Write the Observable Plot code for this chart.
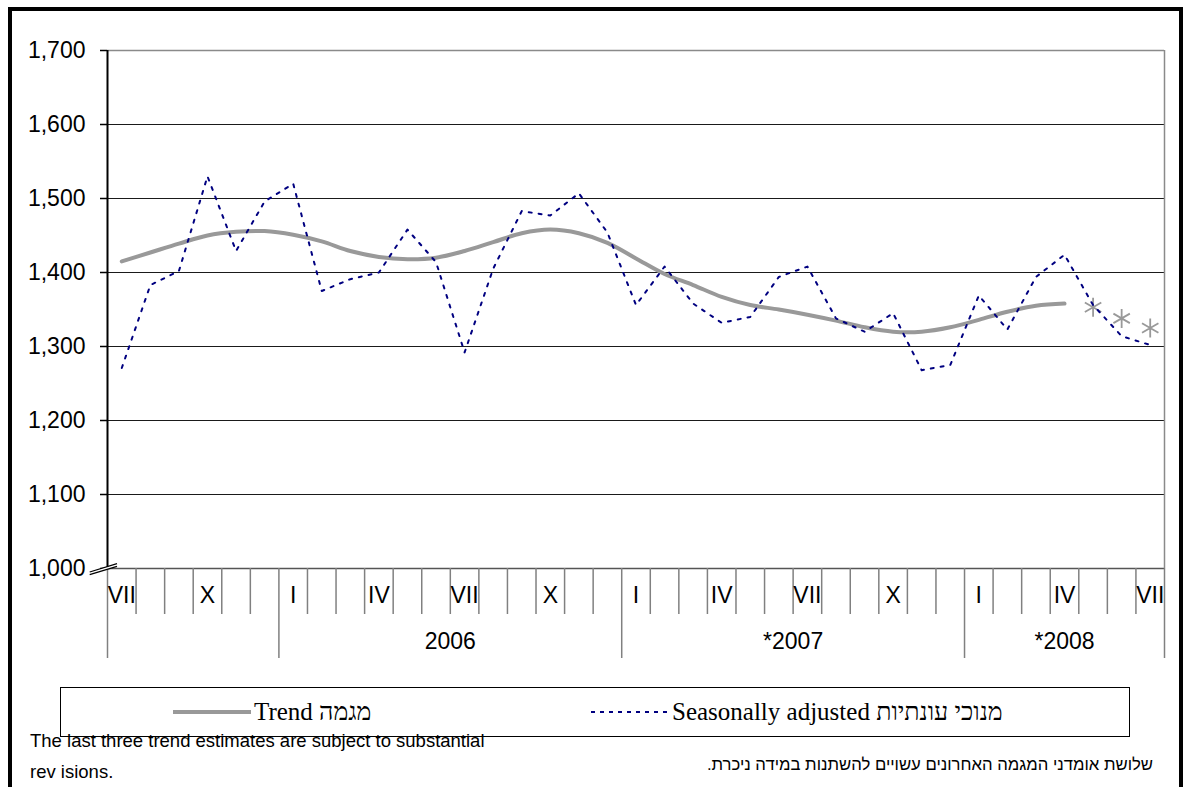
<!DOCTYPE html>
<html>
<head>
<meta charset="utf-8">
<script src="https://cdn.jsdelivr.net/npm/d3@7"></script>
<script src="https://cdn.jsdelivr.net/npm/@observablehq/plot@0.6"></script>
<style>
  html, body { margin: 0; padding: 0; background: #fff; }
  #wrap { position: relative; width: 1191px; height: 787px; overflow: hidden; background: #fff;
          font-family: "Liberation Sans", Arial, sans-serif; }
  #chart { position: absolute; left: 0; top: 0; }
  #frame { position: absolute; left: 8px; top: 7px; width: 1175px; height: 820px;
           border: 4px solid #000; box-sizing: border-box; pointer-events: none; }
  #legend { position: absolute; left: 60px; top: 687px; width: 1070px; height: 50px;
            border: 1.5px solid #000; box-sizing: border-box; background: #fff;
            font-family: "Liberation Serif", "Times New Roman", serif; font-size: 25px; color: #000; }
  .item { position: absolute; top: 0; height: 47px; display: flex; align-items: center; white-space: nowrap; }
  .item svg { margin-right: 3px; }
  #note-en { position: absolute; left: 30px; top: 725px; font-size: 18.5px; line-height: 31px; color: #000; }
  #note-he { position: absolute; right: 38px; top: 755px; font-size: 16.7px; color: #000; direction: rtl; white-space: nowrap; }
</style>
</head>
<body>
<div id="wrap">
  <div id="chart"></div>
  <div id="legend"></div>
  <div id="note-en">The last three trend estimates are subject to substantial<br>rev isions.</div>
  <div id="note-he">שלושת אומדני המגמה האחרונים עשויים להשתנות במידה ניכרת.</div>
  <div id="frame"></div>
</div>
<script>
// ---------- data ----------
const categories = [
  "2005-07","2005-08","2005-09","2005-10","2005-11","2005-12",
  "2006-01","2006-02","2006-03","2006-04","2006-05","2006-06",
  "2006-07","2006-08","2006-09","2006-10","2006-11","2006-12",
  "2007-01","2007-02","2007-03","2007-04","2007-05","2007-06",
  "2007-07","2007-08","2007-09","2007-10","2007-11","2007-12",
  "2008-01","2008-02","2008-03","2008-04","2008-05","2008-06",
  "2008-07"
];
const monthTickLabels = [
  "VII","","","X","","","I","","","IV","","",
  "VII","","","X","","","I","","","IV","","",
  "VII","","","X","","","I","","","IV","","",
  "VII"
];
const yearLabels = ["2006", "*2007", "*2008"];
const yearStart = [6, 18, 30];
const yearEnd = [18, 30, 37];

const seasonal = [
  1271, 1383, 1402, 1530, 1429, 1496, 1520, 1375, 1391, 1400, 1458, 1414,
  1292, 1405, 1483, 1477, 1507, 1454, 1356, 1408, 1358, 1332, 1340, 1394,
  1408, 1338, 1320, 1345, 1268, 1275, 1369, 1323, 1394, 1424, 1356, 1314,
  1302
];
const trend = [
  1415, 1427, 1439, 1450, 1455, 1456, 1451, 1442, 1429, 1421, 1418, 1420,
  1429, 1441, 1453, 1458, 1453, 1440, 1419, 1398, 1383, 1367, 1356, 1350,
  1343, 1335, 1326, 1320, 1320, 1326, 1336, 1347, 1355, 1358, null, null,
  null
];
// last three trend estimates (asterisks)
const trendEstimates = [null, null, null, null, null, null, null, null, null, null, null, null,
  null, null, null, null, null, null, null, null, null, null, null, null,
  null, null, null, null, null, null, null, null, null, null, 1353, 1338,
  1325];

const yTicks = [1000, 1100, 1200, 1300, 1400, 1500, 1600, 1700];
const seriesNames = ["Trend מגמה", "Seasonally adjusted מנוכי עונתיות"];

// ---------- build ----------
const rows = categories.map((c, i) => ({
  cat: c, pos: i + 0.5, seasonal: seasonal[i], trend: trend[i], est: trendEstimates[i]
}));
const n = categories.length;
const yearBounds = [0, ...yearStart, n];
const minorBounds = d3.range(1, n).filter(b => !yearBounds.includes(b));
const labelPos = rows.filter((d, i) => monthTickLabels[i] !== "").map(d => d.pos);
const labelOf = new Map(rows.map((d, i) => [d.pos, monthTickLabels[i]]));
const yearCenters = yearStart.map((s, k) => (s + yearEnd[k]) / 2);
const yearOf = new Map(yearCenters.map((c, k) => [c, yearLabels[k]]));

const axisBreak = (index, scales) => {
  const x0 = scales.x(0), y0 = scales.y(1000);
  const g = d3.create("svg:g");
  g.append("path")
    .attr("d", `M${x0 - 17},${y0 + 4}L${x0 + 10},${y0 - 4.3}L${x0 + 10},${y0 - 1.6}L${x0 - 17},${y0 + 6.7}Z`)
    .attr("fill", "#fff");
  for (const off of [0, 2.7]) {
    g.append("line")
      .attr("x1", x0 - 17.3).attr("y1", y0 + 4 + off)
      .attr("x2", x0 + 10).attr("y2", y0 - 4.3 + off)
      .attr("stroke", "#000").attr("stroke-width", 1.3);
  }
  return g.node();
};

const chart = Plot.plot({
  width: 1191,
  height: 670,
  marginLeft: 107,
  marginRight: 27,
  marginTop: 50,
  marginBottom: 102,
  x: { domain: [0, n] },
  y: { domain: [1000, 1700] },
  style: { fontFamily: "'Liberation Sans', Arial, sans-serif", fontSize: "23px", background: "transparent", color: "#000", overflow: "visible" },
  marks: [
    Plot.ruleY(yTicks.filter(v => v > 1000 && v < 1700), { stroke: "#1a1a1a", strokeWidth: 1.2 }),
    Plot.ruleY([1700], { stroke: "#8a8a8a", strokeWidth: 1.5 }),
    Plot.ruleY([1000], { stroke: "#555", strokeWidth: 1.6 }),
    Plot.ruleX([n], { y1: 1000, y2: 1700, stroke: "#8a8a8a", strokeWidth: 1.5 }),
    Plot.ruleX([0], { y1: 1000, y2: 1700, stroke: "#000", strokeWidth: 2 }),
    Plot.axisY({ ticks: yTicks, tickSize: 7, tickPadding: 15, tickFormat: d3.format(","), fontSize: 23, stroke: "#000", strokeWidth: 1.5, label: null }),
    Plot.axisX({ ticks: minorBounds, tickSize: 46, tickFormat: () => "", stroke: "#808080", strokeWidth: 1.5, label: null }),
    Plot.axisX({ ticks: yearBounds, tickSize: 90, tickFormat: () => "", stroke: "#808080", strokeWidth: 1.5, label: null }),
    Plot.axisX({ ticks: labelPos, tickSize: 0, tickPadding: 18, tickFormat: d => labelOf.get(d), fontSize: 23, label: null }),
    Plot.axisX({ ticks: yearCenters, tickSize: 0, tickPadding: 64, tickFormat: d => yearOf.get(d), fontSize: 23, label: null }),
    axisBreak,
    Plot.line(rows.filter(d => d.trend != null), { x: "pos", y: "trend", stroke: "#999999", strokeWidth: 4, curve: "catmull-rom" }),
    Plot.dot(rows.filter(d => d.est != null), { x: "pos", y: "est", symbol: "asterisk", r: 9, stroke: "#999999", strokeWidth: 1.8 }),
    Plot.line(rows, { x: "pos", y: "seasonal", stroke: "#000080", strokeWidth: 2, strokeDasharray: "3,7", curve: "linear" })
  ]
});
document.getElementById("chart").appendChild(chart);

// legend
const legend = document.getElementById("legend");
const items = [
  { name: seriesNames[0], left: 112, stroke: "#999999", width: 4, dash: null },
  { name: seriesNames[1], left: 530, stroke: "#000080", width: 2, dash: "4,5" }
];
for (const it of items) {
  const div = document.createElement("div");
  div.className = "item";
  div.style.left = it.left + "px";
  const sw = d3.create("svg").attr("width", 78).attr("height", 8);
  sw.append("line").attr("x1", 0).attr("x2", 78).attr("y1", 4).attr("y2", 4)
    .attr("stroke", it.stroke).attr("stroke-width", it.width)
    .attr("stroke-dasharray", it.dash);
  div.appendChild(sw.node());
  const span = document.createElement("span");
  span.textContent = it.name;
  div.appendChild(span);
  legend.appendChild(div);
}
</script>
</body>
</html>
